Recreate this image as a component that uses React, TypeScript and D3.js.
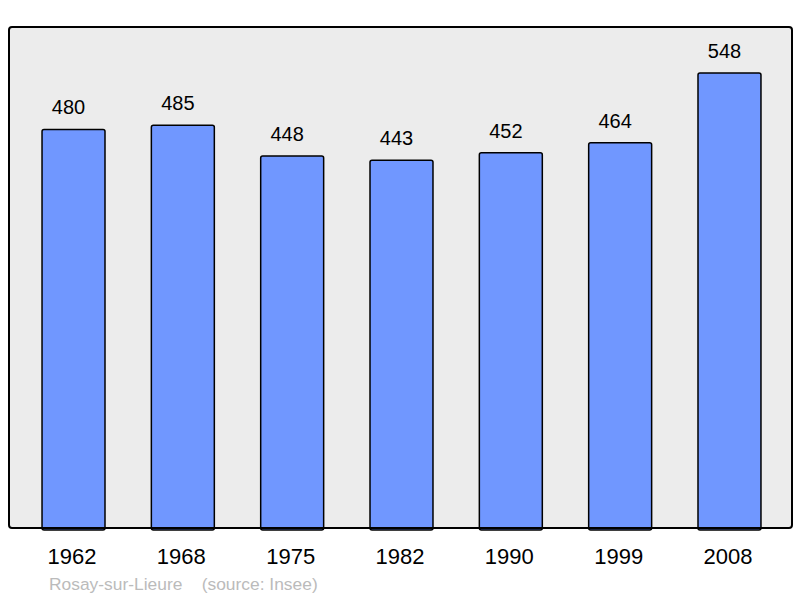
import React from "react";
import * as d3 from "d3";

const years = ["1962", "1968", "1975", "1982", "1990", "1999", "2008"];
const populations = [480, 485, 448, 443, 452, 464, 548];
const sourceLabel = "Rosay-sur-Lieure\u00a0\u00a0\u00a0\u00a0(source: Insee)";

export default function App() {
  const W = 800, H = 598;
  const panel = { x: 9, y: 27, w: 783, h: 501 };
  const x = d3.scaleBand<string>().domain(years).range([18.85, 784.15]).paddingInner(0.424).paddingOuter(0.212);
  const y = d3.scaleLinear().domain([0, 603.4]).range([panel.y + panel.h, panel.y]);
  const font = "'Liberation Sans', Arial, sans-serif";
  return (
    <svg width={W} height={H} style={{ position: "absolute", left: 0, top: 0 }}>
      <rect x={panel.x} y={panel.y} width={panel.w} height={panel.h} rx={3} fill="#ececec" stroke="none" />
      {years.map((yr, i) => {
        const v = populations[i];
        const bx = x(yr)!;
        const top = y(v);
        const cx = bx + x.bandwidth() / 2;
        return (
          <g key={yr}>
            <rect x={bx} y={top} width={x.bandwidth()} height={y(0) - top + 2} rx={2} fill="#7097ff" stroke="#000" strokeWidth={1.5} />
            <text x={cx - 5} y={top - 15} textAnchor="middle" fontFamily={font} fontSize={20} fill="#000">{v}</text>
            <text x={cx - 1.5} y={564} textAnchor="middle" fontFamily={font} fontSize={22} fill="#000">{yr}</text>
          </g>
        );
      })}
      <rect x={panel.x} y={panel.y} width={panel.w} height={panel.h} rx={3} fill="none" stroke="#000" strokeWidth={2} />
      <text x={49} y={590} fontFamily={font} fontSize={17.4} fill="#bbbbbb">{sourceLabel}</text>
    </svg>
  );
}
